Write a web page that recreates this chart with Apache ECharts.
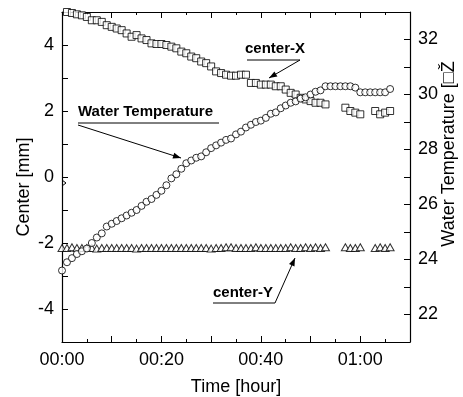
<!DOCTYPE html>
<html>
<head>
<meta charset="utf-8">
<script src="https://cdn.jsdelivr.net/npm/echarts@6/dist/echarts.min.js"></script>
<style>
  html, body { margin: 0; padding: 0; background: #fff; }
  #chart { width: 463px; height: 397px; }
</style>
</head>
<body>
<div id="chart"></div>
<script>
// time in minutes from start
var minutes = [];
for (var m = 0; m <= 66; m++) minutes.push(m);

// water temperature [deg C], right axis
var waterTemp = [
  23.6, 23.9, 24.05, 24.2, 24.3, 24.4, 24.6, 24.8, 24.95, 25.2,
  25.3, 25.4, 25.5, 25.6, 25.7, 25.8, 25.95, 26.1, 26.2, 26.35,
  26.5, 26.7, 26.95, 27.1, 27.3, 27.5, 27.6, 27.7, 27.75, 27.9,
  28.05, 28.15, 28.25, 28.35, 28.4, 28.55, 28.65, 28.8, 28.9, 29.0,
  29.05, 29.15, 29.3, 29.35, 29.5, 29.6, 29.7, 29.75, 29.85, 29.9,
  30.0, 30.1, 30.15, 30.3, 30.3, 30.3, 30.3, 30.3, 30.3, 30.25,
  30.08, 30.08, 30.08, 30.08, 30.08, 30.08, 30.2
];

// center-X [mm], left axis (null = no sample)
var centerX = [
  5.05, 5.0, 4.97, 4.93, 4.9, 4.85, 4.75, 4.75, 4.7, 4.6,
  4.55, 4.5, 4.45, 4.35, 4.25, 4.3, 4.2, 4.15, 4.05, 4.03,
  4.03, 4.0, 3.95, 3.9, 3.8, 3.75, 3.65, 3.6, 3.5, 3.45,
  3.35, 3.2, 3.15, 3.1, 3.07, 3.07, 3.1, 3.1, 2.85, 2.85,
  2.8, 2.8, 2.8, 2.75, 2.75, 2.65, 2.55, 2.5, 2.4, 2.35,
  2.3, 2.25, 2.25, 2.2, null, null, null, 2.1, 2.0, 1.95,
  1.9, null, null, 2.0, 1.9, 1.95, 2.0
];

// center-Y [mm], left axis
var centerY = [
  -2.15, -2.15, -2.13, -2.15, -2.15, -2.15, -2.15, -2.17, -2.15, -2.15,
  -2.15, -2.15, -2.15, -2.15, -2.15, -2.17, -2.15, -2.15, -2.15, -2.15,
  -2.15, -2.15, -2.15, -2.15, -2.15, -2.15, -2.15, -2.15, -2.15, -2.15,
  -2.17, -2.15, -2.15, -2.13, -2.13, -2.15, -2.15, -2.15, -2.15, -2.13,
  -2.15, -2.15, -2.15, -2.15, -2.15, -2.15, -2.13, -2.15, -2.15, -2.13,
  -2.15, -2.13, -2.15, -2.13, null, null, null, -2.13, -2.15, -2.15,
  -2.13, null, null, -2.15, -2.13, -2.15, -2.13
];

var leftTicks = [-4, -2, 0, 2, 4];
var rightTicks = [22, 24, 26, 28, 30, 32];
var timeTicks = { 0: '00:00', 20: '00:20', 40: '00:40', 60: '01:00' };

function pairs(vals) {
  var out = [];
  for (var i = 0; i < vals.length; i++) {
    if (vals[i] !== null) out.push([minutes[i], vals[i]]);
  }
  return out;
}

var font = 'Liberation Sans, Arial, sans-serif';
var black = '#000';

function arrowHead(tipX, tipY, fromX, fromY) {
  var a = Math.atan2(tipY - fromY, tipX - fromX);
  var len = 8, w = 3;
  var bx = tipX - len * Math.cos(a), by = tipY - len * Math.sin(a);
  return {
    type: 'polygon',
    shape: { points: [
      [tipX, tipY],
      [bx + w * Math.sin(a), by - w * Math.cos(a)],
      [bx - w * Math.sin(a), by + w * Math.cos(a)]
    ] },
    style: { fill: black }
  };
}

function line(x1, y1, x2, y2) {
  return { type: 'line', shape: { x1: x1, y1: y1, x2: x2, y2: y2 }, style: { stroke: black, lineWidth: 1 } };
}

function label(text, x, y) {
  return {
    type: 'text', x: x, y: y,
    style: { text: text, font: 'bold 15px ' + font, fill: black, textVerticalAlign: 'middle' }
  };
}

var chart = echarts.init(document.getElementById('chart'));

var tickStyle = { inside: true, length: 6, lineStyle: { color: black } };
var minorStyle = { show: true, splitNumber: 2, length: 3, lineStyle: { color: black } };
var axisLine = { onZero: false, lineStyle: { color: black, width: 1.2 } };

var option = {
  animation: false,
  textStyle: { fontFamily: font },
  grid: { left: 62, right: 53, top: 12, bottom: 55, containLabel: false, outerBoundsMode: 'none' },
  xAxis: [{
    type: 'value', min: 0, max: 70, interval: 10,
    axisLine: axisLine, axisTick: tickStyle, minorTick: minorStyle,
    splitLine: { show: false },
    axisLabel: {
      color: black, fontSize: 18, margin: 9,
      formatter: function (v) { return timeTicks[v] || ''; }
    },
    name: 'Time [hour]', nameLocation: 'middle', nameGap: 36,
    nameTextStyle: { color: black, fontSize: 18 }
  }, {
    type: 'value', position: 'top', min: 0, max: 70, interval: 10,
    axisLine: axisLine, axisTick: tickStyle, minorTick: minorStyle,
    splitLine: { show: false }, axisLabel: { show: false }
  }],
  yAxis: [{
    type: 'value', min: -5, max: 5, interval: 1,
    axisLine: axisLine, axisTick: tickStyle, splitLine: { show: false },
    axisLabel: {
      color: black, fontSize: 18, margin: 8,
      formatter: function (v) { return leftTicks.indexOf(v) >= 0 ? String(v) : ''; }
    }
  }, {
    type: 'value', position: 'right', min: 21, max: 33, interval: 1,
    axisLine: axisLine, axisTick: tickStyle, splitLine: { show: false },
    axisLabel: {
      color: black, fontSize: 18, margin: 8,
      formatter: function (v) { return rightTicks.indexOf(v) >= 0 ? String(v) : ''; }
    }
  }],
  series: [{
    name: 'center-Y', type: 'scatter', yAxisIndex: 0,
    symbol: 'triangle', symbolSize: [8, 7],
    itemStyle: { color: '#fff', borderColor: black, borderWidth: 1 },
    data: pairs(centerY)
  }, {
    name: 'center-X', type: 'scatter', yAxisIndex: 0,
    symbol: 'rect', symbolSize: 7,
    itemStyle: { color: '#fff', borderColor: black, borderWidth: 1 },
    data: pairs(centerX)
  }, {
    name: 'Water Temperature', type: 'scatter', yAxisIndex: 1,
    symbol: 'circle', symbolSize: 7,
    itemStyle: { color: '#fff', borderColor: black, borderWidth: 1 },
    data: pairs(waterTemp)
  }],
  graphic: [
    {
      type: 'text', x: 24, y: 187, rotation: Math.PI / 2,
      style: { text: 'Center [mm]', font: '18px ' + font, fill: black, textAlign: 'center', textVerticalAlign: 'middle' }
    },
    {
      type: 'text', x: 449, y: 154, rotation: Math.PI / 2,
      style: { text: 'Water Temperature [\u25A1\u017D', font: '18px ' + font, fill: black, textAlign: 'center', textVerticalAlign: 'middle' }
    },
    // axis break mark on the left axis near 0
    {
      type: 'polyline',
      shape: { points: [[62, 180], [66, 183], [62, 186]] },
      style: { stroke: black, lineWidth: 1, fill: null }
    },
    label('Water Temperature', 78, 112),
    line(78, 123, 219, 123),
    line(78, 125, 181, 158),
    arrowHead(181, 158, 78, 125),
    label('center-X', 245, 49),
    line(247, 60, 300, 60),
    line(300, 60, 269, 78),
    arrowHead(269, 78, 300, 60),
    label('center-Y', 213, 293),
    line(213, 303, 275, 303),
    line(275, 303, 295, 258),
    arrowHead(295, 258, 275, 303)
  ]
};

chart.setOption(option);
</script>
</body>
</html>
